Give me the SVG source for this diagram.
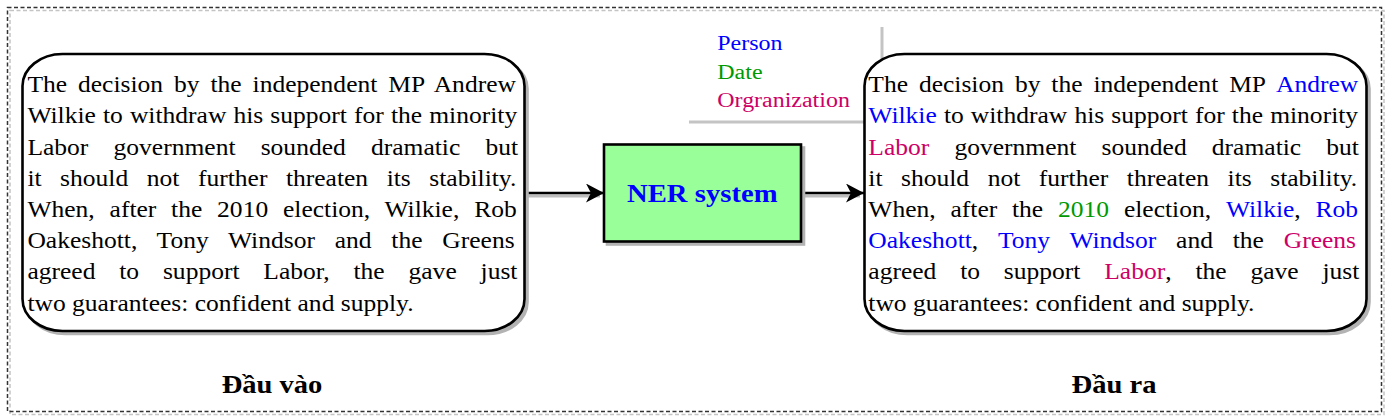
<svg xmlns="http://www.w3.org/2000/svg" width="1389" height="419" viewBox="0 0 1389 419">
<style>
.body{font-family:"Liberation Serif","Times New Roman",serif;font-size:22.7px;fill:#000}
.leg{font-family:"Liberation Serif","Times New Roman",serif;font-size:21.3px}
.lbl{font-family:"Liberation Serif","Times New Roman",serif;font-size:25.4px;font-weight:bold;fill:#000}
.box{fill:#fff;stroke:#000;stroke-width:2.6}
.shadow{fill:#b3b3b3;stroke:#b3b3b3;stroke-width:2.6}
.p{fill:#0000FF}.d{fill:#009900}.o{fill:#CC0066}
.conn{stroke:#000;stroke-width:2.6;fill:none}
.connsh{stroke:#bdbdbd;stroke-width:3;fill:none}
</style>
<defs>
<marker id="arr" markerWidth="20" markerHeight="20" refX="18" refY="9.5" orient="auto" markerUnits="userSpaceOnUse">
<path d="M0,0 L18,9.5 L0,19 L5,9.5 Z" fill="#000"/>
</marker>
</defs>
<rect width="1389" height="419" fill="#fff"/>
<g id="frame">
<rect x="10" y="10.5" width="1374" height="404" fill="none" stroke="#c4c4c4" stroke-width="1.5" stroke-dasharray="4 2.5"/>
<rect x="7.5" y="7.5" width="1374" height="404" fill="none" stroke="#333" stroke-width="1.5" stroke-dasharray="4 2.5"/>
</g>
<g id="legend">
<line x1="882" y1="27" x2="882" y2="120" stroke="#c4c4c4" stroke-width="3"/>
<line x1="689" y1="122" x2="870" y2="122" stroke="#c4c4c4" stroke-width="3"/>
<g transform="translate(717.3,0) scale(1.125,1)">
<text class="leg p" x="0" y="50">Person</text>
<text class="leg d" x="0" y="79">Date</text>
<text class="leg o" x="0" y="107.5">Orgranization</text>
</g>
</g>
<g id="connectors">
<line class="connsh" x1="527" y1="196" x2="600" y2="196"/>
<line class="connsh" x1="803" y1="196" x2="860" y2="196"/>
<line class="conn" x1="524" y1="193" x2="604" y2="193" marker-end="url(#arr)"/>
<line class="conn" x1="801" y1="193" x2="864" y2="193" marker-end="url(#arr)"/>
</g>
<g id="input">
<rect class="shadow" x="25.5" y="57" width="502" height="277" rx="40" ry="32"/>
<rect class="box" x="22.5" y="54" width="502" height="277" rx="40" ry="32"/>
<g transform="translate(27.4,0) scale(1.125,1)">
<text class="body" x="0" y="92.3" word-spacing="4.02">The decision by the independent MP Andrew</text>
<text class="body" x="0" y="123.5" word-spacing="0.64">Wilkie to withdraw his support for the minority</text>
<text class="body" x="0" y="154.7" word-spacing="16.7">Labor government sounded dramatic but</text>
<text class="body" x="0" y="185.9" word-spacing="10.8">it should not further threaten its stability.</text>
<text class="body" x="0" y="217.1" word-spacing="7.48">When, after the 2010 election, Wilkie, Rob</text>
<text class="body" x="0" y="248.3" word-spacing="11.9">Oakeshott, Tony Windsor and the Greens</text>
<text class="body" x="0" y="279.5" word-spacing="15.5">agreed to support Labor, the gave just</text>
<text class="body" x="0" y="310.7">two guarantees: confident and supply.</text>
</g>
</g>
<g id="ner">
<rect class="shadow" x="607" y="147.5" width="197" height="97"/>
<rect x="604" y="144.5" width="197" height="97" fill="#99FF99" stroke="#000" stroke-width="2.6"/>
<g transform="translate(702.3,0) scale(1.125,1)">
<text x="0" y="201.7" text-anchor="middle" style="font-family:'Liberation Serif','Times New Roman',serif;font-size:25.5px;font-weight:bold;fill:#0000FF">NER system</text>
</g>
</g>
<g id="output">
<rect class="shadow" x="867.5" y="57" width="502" height="277" rx="40" ry="32"/>
<rect class="box" x="864.5" y="54" width="502" height="277" rx="40" ry="32"/>
<g transform="translate(868.3,0) scale(1.125,1)">
<text class="body" x="0" y="92.3" word-spacing="4.02">The decision by the independent MP <tspan class="p">Andrew</tspan></text>
<text class="body" x="0" y="123.5" word-spacing="0.64"><tspan class="p">Wilkie</tspan> to withdraw his support for the minority</text>
<text class="body" x="0" y="154.7" word-spacing="16.7"><tspan class="o">Labor</tspan> government sounded dramatic but</text>
<text class="body" x="0" y="185.9" word-spacing="10.8">it should not further threaten its stability.</text>
<text class="body" x="0" y="217.1" word-spacing="7.48">When, after the <tspan class="d">2010</tspan> election, <tspan class="p">Wilkie</tspan>, <tspan class="p">Rob</tspan></text>
<text class="body" x="0" y="248.3" word-spacing="11.9"><tspan class="p">Oakeshott</tspan>, <tspan class="p">Tony Windsor</tspan> and the <tspan class="o">Greens</tspan></text>
<text class="body" x="0" y="279.5" word-spacing="15.5">agreed to support <tspan class="o">Labor</tspan>, the gave just</text>
<text class="body" x="0" y="310.7">two guarantees: confident and supply.</text>
</g>
</g>
<g id="label-input" transform="translate(272,0) scale(1.125,1)">
<text class="lbl" x="0" y="393" text-anchor="middle">Đầu vào</text>
</g>
<g id="label-output" transform="translate(1114,0) scale(1.125,1)">
<text class="lbl" x="0" y="393" text-anchor="middle">Đầu ra</text>
</g>
</svg>
